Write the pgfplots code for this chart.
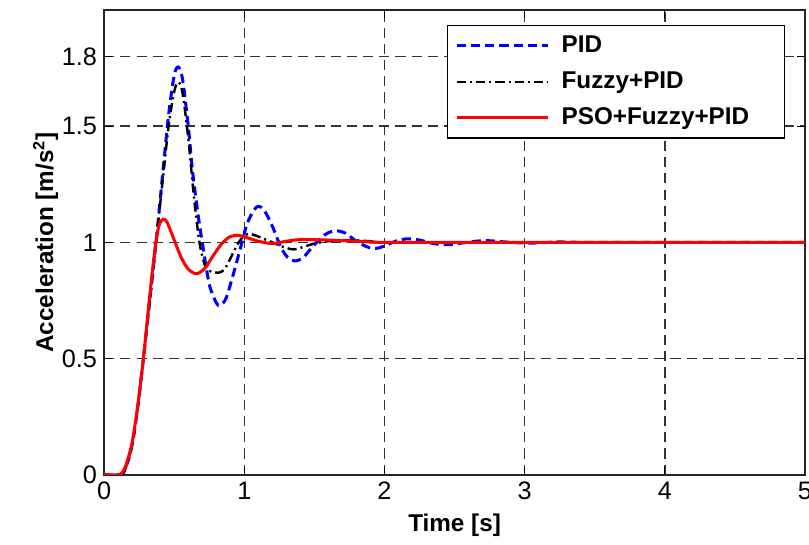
\documentclass[border=0pt]{standalone}
\usepackage{fontspec}
\setmainfont{Liberation Sans}
\usepackage{pgfplots}
\pgfplotsset{compat=1.18}

% step responses
\pgfplotstableread{
t a
0 0
0.12 0
0.16 0.04
0.2 0.13
0.24 0.29
0.28 0.5
0.32 0.72
0.37 1.0
0.42 1.31
0.46 1.55
0.5 1.72
0.53 1.755
0.56 1.7
0.6 1.5
0.63 1.31
0.67 1.12
0.7 1.0
0.75 0.82
0.8 0.74
0.83 0.73
0.87 0.76
0.92 0.86
0.97 0.97
1.02 1.08
1.07 1.14
1.1 1.155
1.14 1.14
1.2 1.07
1.26 0.98
1.31 0.935
1.36 0.92
1.42 0.935
1.5 0.99
1.58 1.035
1.65 1.05
1.72 1.04
1.8 1.005
1.88 0.98
1.95 0.975
2.02 0.99
2.1 1.01
2.17 1.015
2.25 1.01
2.35 0.995
2.45 0.99
2.55 0.997
2.65 1.005
2.75 1.007
2.9 1.0
3.05 0.997
3.25 1.002
3.5 1.0
5 1.0
}\pid

\pgfplotstableread{
t a
0 0
0.12 0
0.16 0.04
0.2 0.13
0.24 0.29
0.28 0.5
0.32 0.72
0.37 1.0
0.42 1.28
0.46 1.5
0.5 1.65
0.53 1.69
0.56 1.64
0.6 1.45
0.64 1.2
0.68 1.0
0.72 0.9
0.76 0.875
0.82 0.87
0.86 0.885
0.9 0.93
0.95 0.99
1.0 1.03
1.05 1.035
1.12 1.02
1.2 1.0
1.28 0.98
1.35 0.97
1.42 0.98
1.5 0.995
1.6 1.005
1.75 1.01
1.9 1.005
2.1 1.0
5 1.0
}\fuzzy

\pgfplotstableread{
t a
0 0
0.1 0
0.13 0.01
0.16 0.05
0.2 0.14
0.24 0.3
0.28 0.5
0.32 0.74
0.36 0.96
0.39 1.07
0.42 1.10
0.45 1.085
0.5 1.01
0.55 0.935
0.6 0.885
0.66 0.865
0.72 0.89
0.78 0.945
0.84 0.995
0.9 1.025
0.96 1.03
1.02 1.02
1.1 1.005
1.2 0.995
1.3 1.005
1.4 1.012
1.6 1.01
1.8 1.005
2.0 1.0
2.5 1.0
3 1.0
5 1.0
}\pso

\begin{document}
\begin{tikzpicture}
\begin{axis}[
    scale only axis,
    width=346.5pt, height=229.7pt,
    xmin=0, xmax=5, ymin=0, ymax=2,
    xtick={0,1,2,3,4,5},
    ytick={0,0.5,1,1.5,1.8},
    yticklabels={0,0.5,1,1.5,1.8},
    tick align=inside,
    major tick length=4pt,
    axis line style={line width=0.9pt, black!85},
    tick style={line width=0.6pt, black},
    grid=major,
    major grid style={gray!40!black, line width=0.75pt, dash pattern=on 5pt off 3pt},
    /pgf/number format/assume math mode=true,
    tick label style={font=\fontsize{12.5}{14}\selectfont},
    xlabel={\textbf{Time [s]}},
    ylabel={\textbf{Acceleration [m/s\textsuperscript{2}]}},
    ylabel style={yshift=-5pt},
    label style={font=\fontsize{12}{14}\selectfont},
    legend cell align=left,
    legend style={at={(1,1)}, anchor=north east, xshift=-10pt, yshift=-7.5pt,
        font=\fontsize{12}{14}\selectfont\bfseries, draw=black, line width=0.6pt,
        fill=white, inner xsep=4pt, inner ysep=3pt, row sep=4pt,
        /tikz/every odd column/.append style={column sep=4pt}},
    legend image code/.code={\draw[#1] (0pt,0pt) -- (45pt,0pt);},
]
\addplot[blue, line width=1.5pt, dash pattern=on 4.5pt off 2.5pt, smooth, tension=0.5] table[x=t, y=a] {\pid};
\addlegendentry{PID}
\addplot[black, line width=1.2pt, dash pattern=on 4.5pt off 2pt on 1pt off 2pt, smooth, tension=0.5] table[x=t, y=a] {\fuzzy};
\addlegendentry{Fuzzy+PID}
\addplot[red, line width=1.5pt, smooth, tension=0.5] table[x=t, y=a] {\pso};
\addlegendentry{\makebox[104pt][l]{PSO+Fuzzy+PID}}
\end{axis}
\pgfresetboundingbox
\path ([shift={(-51.5pt,-34.6pt)}]current axis.south west) rectangle ([shift={(2pt,5pt)}]current axis.north east);
\end{tikzpicture}
\end{document}
